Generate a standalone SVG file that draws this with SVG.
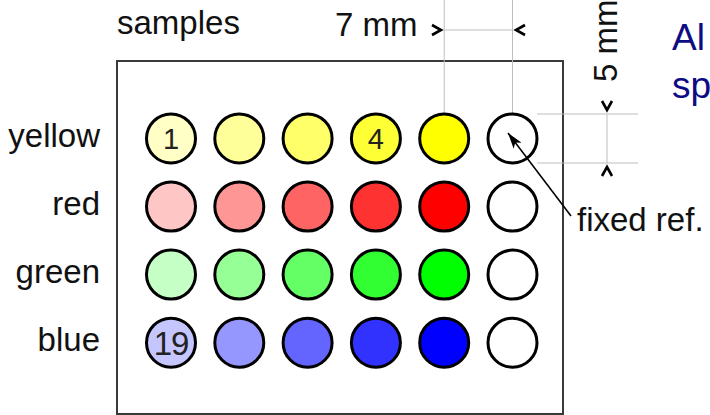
<svg xmlns="http://www.w3.org/2000/svg" width="710" height="415" viewBox="0 0 710 415">
<defs>
<style>
.t{font-family:"Liberation Sans",Arial,sans-serif;font-size:33px;fill:#111}
.n{font-family:"Liberation Sans",Arial,sans-serif;fill:#222;text-anchor:middle}
.c{stroke:#000;stroke-width:3}
.dim{stroke:#bdbdbd;stroke-width:1;fill:none}
.blue{font-family:"Liberation Sans",Arial,sans-serif;font-size:37px;fill:#0c0c84}
</style>
<marker id="ah" viewBox="0 0 16 10" refX="16" refY="5" markerWidth="16" markerHeight="10" markerUnits="userSpaceOnUse" orient="auto">
<path d="M0,0 L16,5 L0,10 L4,5 Z" fill="#000"/>
</marker>
<path id="chev" d="M-11,-5 L-2,0 L-11,5" fill="none" stroke="#000" stroke-width="2.6" stroke-linejoin="miter"/>
</defs>
<rect width="710" height="415" fill="#fff"/>

<g id="plate">
<rect x="117" y="61" width="446" height="353" fill="#fff" stroke="#3a3a3a" stroke-width="2"/>
</g>

<g id="labels">
<text class="t" x="117" y="34">samples</text>
<text class="t" x="100" y="147" text-anchor="end">yellow</text>
<text class="t" x="100" y="215" text-anchor="end">red</text>
<text class="t" x="100" y="283" text-anchor="end">green</text>
<text class="t" x="100" y="351" text-anchor="end">blue</text>
<text class="t" x="335" y="36">7 mm</text>
<text class="t" transform="translate(617,82) rotate(-90)">5 mm</text>
<text class="t" x="577" y="231">fixed ref.</text>
<text class="blue" x="672" y="50">Al</text>
<text class="blue" x="672" y="98">sp</text>
</g>

<g id="dimensions">
<line class="dim" x1="444.2" y1="0" x2="444.2" y2="113"/>
<line class="dim" x1="512.5" y1="0" x2="512.5" y2="113"/>
<line class="dim" x1="444.2" y1="30" x2="512.5" y2="30"/>
<use href="#chev" transform="translate(443,30)"/>
<use href="#chev" transform="translate(514,30) rotate(180)"/>
<line class="dim" x1="537" y1="114" x2="638" y2="114"/>
<line class="dim" x1="537" y1="163" x2="638" y2="163"/>
<line class="dim" x1="607" y1="114" x2="607" y2="163"/>
<use href="#chev" transform="translate(607,112) rotate(90)"/>
<use href="#chev" transform="translate(607,165) rotate(-90)"/>
</g>

<g id="row-yellow">
<circle class="c" cx="171" cy="138.4" r="24.5" fill="#ffffc6"/>
<circle class="c" cx="239.3" cy="138.4" r="24.5" fill="#ffff9a"/>
<circle class="c" cx="307.6" cy="138.4" r="24.5" fill="#ffff6a"/>
<circle class="c" cx="375.9" cy="138.4" r="24.5" fill="#ffff36"/>
<circle class="c" cx="444.2" cy="138.4" r="24.5" fill="#ffff00"/>
<circle class="c" cx="512.5" cy="138.4" r="24.5" fill="#fff"/>
<text class="n" x="171" y="149" font-size="29">1</text>
<text class="n" x="375.9" y="149" font-size="29">4</text>
</g>

<g id="row-red">
<circle class="c" cx="171" cy="206.5" r="24.5" fill="#ffc6c6"/>
<circle class="c" cx="239.3" cy="206.5" r="24.5" fill="#ff9696"/>
<circle class="c" cx="307.6" cy="206.5" r="24.5" fill="#ff6464"/>
<circle class="c" cx="375.9" cy="206.5" r="24.5" fill="#ff3232"/>
<circle class="c" cx="444.2" cy="206.5" r="24.5" fill="#ff0000"/>
<circle class="c" cx="512.5" cy="206.5" r="24.5" fill="#fff"/>
</g>

<g id="row-green">
<circle class="c" cx="171" cy="274.6" r="24.5" fill="#c6ffc6"/>
<circle class="c" cx="239.3" cy="274.6" r="24.5" fill="#96ff96"/>
<circle class="c" cx="307.6" cy="274.6" r="24.5" fill="#64ff64"/>
<circle class="c" cx="375.9" cy="274.6" r="24.5" fill="#32ff32"/>
<circle class="c" cx="444.2" cy="274.6" r="24.5" fill="#00ff00"/>
<circle class="c" cx="512.5" cy="274.6" r="24.5" fill="#fff"/>
</g>

<g id="row-blue">
<circle class="c" cx="171" cy="342.7" r="24.5" fill="#c6c6ff"/>
<circle class="c" cx="239.3" cy="342.7" r="24.5" fill="#9696ff"/>
<circle class="c" cx="307.6" cy="342.7" r="24.5" fill="#6464ff"/>
<circle class="c" cx="375.9" cy="342.7" r="24.5" fill="#3232ff"/>
<circle class="c" cx="444.2" cy="342.7" r="24.5" fill="#0000ff"/>
<circle class="c" cx="512.5" cy="342.7" r="24.5" fill="#fff"/>
<text class="n" x="171" y="354.5" font-size="33" letter-spacing="-1">19</text>
</g>

<g id="connectors">
<line x1="571" y1="216" x2="508" y2="133" stroke="#000" stroke-width="1.6" marker-end="url(#ah)"/>
</g>
</svg>
